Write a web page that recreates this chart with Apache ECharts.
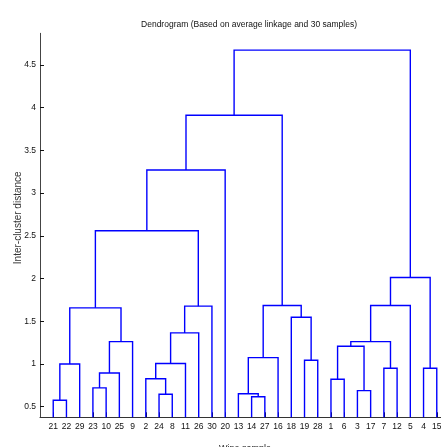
<!DOCTYPE html>
<html>
<head>
<meta charset="utf-8">
<script src="https://cdn.jsdelivr.net/npm/echarts@6/dist/echarts.min.js"></script>
<style>html,body{margin:0;padding:0;background:#fff;}#c{width:441px;height:447px;}</style>
</head>
<body>
<div id="c"></div>
<script>
// Leaf order along the x axis (sample numbers)
var leafOrder = [21,22,29,23,10,25,9,2,24,8,11,26,30,20,13,14,27,16,18,19,28,1,6,3,17,7,12,5,4,15];
// Linkage rows: [child A, child B, height]; ids 1..30 are samples, 31.. are merges in this order
var mergeA = [21,14,24,13,3,23,1,2,36,7,4,31,38,19,34,37,39,46,43,18,42,49,45,48,54,51,56,57,58];
var mergeB = [22,27,8,32,17,10,6,33,25,12,15,29,11,28,16,35,9,40,26,44,47,30,50,5,41,52,20,53,55];
var mergeH = [0.575,0.617,0.645,0.652,0.688,0.72,0.821,0.828,0.895,0.95,0.95,1.0,1.005,1.044,1.074,1.208,1.262,1.262,1.364,1.548,1.657,1.677,1.684,1.684,2.012,2.56,3.271,3.911,4.674];
var yTicks = [0.5,1,1.5,2,2.5,3,3.5,4,4.5];

var nLeaves = leafOrder.length;
var pos = {}, hgt = {};
leafOrder.forEach(function(s, i){ pos[s] = i + 1; hgt[s] = 0; });
var segs = [];
for (var k = 0; k < mergeA.length; k++) {
  var a = mergeA[k], b = mergeB[k], id = nLeaves + 1 + k;
  segs.push([pos[a], hgt[a], pos[b], hgt[b], mergeH[k]]);
  pos[id] = (pos[a] + pos[b]) / 2;
  hgt[id] = mergeH[k];
}
var xTickVals = leafOrder.map(function(s, i){ return i + 1; });

var font = '"Liberation Sans", Arial, sans-serif';
var chart = echarts.init(document.getElementById('c'));
chart.setOption({
  animation: false,
  title: {
    text: 'Dendrogram (Based on average linkage and 30 samples)',
    left: 244, top: 15, textAlign: 'center',
    textStyle: {fontFamily: font, fontSize: 8.5, fontWeight: 'normal', color: '#111'}
  },
  grid: {left: 40, top: 33.3, width: 410, height: 384, outerBoundsMode: 'none', containLabel: false},
  xAxis: {
    type: 'value', min: 0, max: 31,
    name: 'Wine sample', nameLocation: 'middle', nameGap: 27, nameMoveOverlap: false,
    nameTextStyle: {fontFamily: font, fontSize: 9, color: '#222'},
    axisLine: {show: true, lineStyle: {color: '#333', width: 1}},
    axisTick: {show: true, inside: true, length: 5, customValues: xTickVals, lineStyle: {color: '#111'}},
    axisLabel: {
      customValues: xTickVals, margin: 5, hideOverlap: false,
      fontFamily: font, fontSize: 8.5, color: '#111',
      formatter: function(v){ return String(leafOrder[Math.round(v) - 1]); }
    },
    splitLine: {show: false}
  },
  yAxis: {
    type: 'value', min: 0.376, max: 4.871,
    name: 'Inter-cluster distance', nameLocation: 'middle', nameGap: 17, nameMoveOverlap: false,
    nameTextStyle: {fontFamily: font, fontSize: 10, color: '#333', padding: [0, 0, 0, 15]},
    axisLine: {show: true, lineStyle: {color: '#444', width: 1}},
    axisTick: {show: true, inside: true, length: 4, customValues: yTicks, lineStyle: {color: '#111'}},
    axisLabel: {customValues: yTicks, margin: 4, fontFamily: font, fontSize: 8.5, color: '#111',
      formatter: function(v){ return String(v); }},
    splitLine: {show: false}
  },
  series: [{
    type: 'custom',
    clip: true,
    data: segs,
    encode: {x: [0, 2], y: [1, 3, 4]},
    renderItem: function(params, api) {
      var p1 = api.coord([api.value(0), api.value(1)]);
      var p2 = api.coord([api.value(0), api.value(4)]);
      var p3 = api.coord([api.value(2), api.value(4)]);
      var p4 = api.coord([api.value(2), api.value(3)]);
      return {
        type: 'polyline',
        shape: {points: [p1, p2, p3, p4]},
        style: {stroke: '#0000ff', lineWidth: 1.4, fill: null}
      };
    },
    z: 1
  }]
});
</script>
</body>
</html>
